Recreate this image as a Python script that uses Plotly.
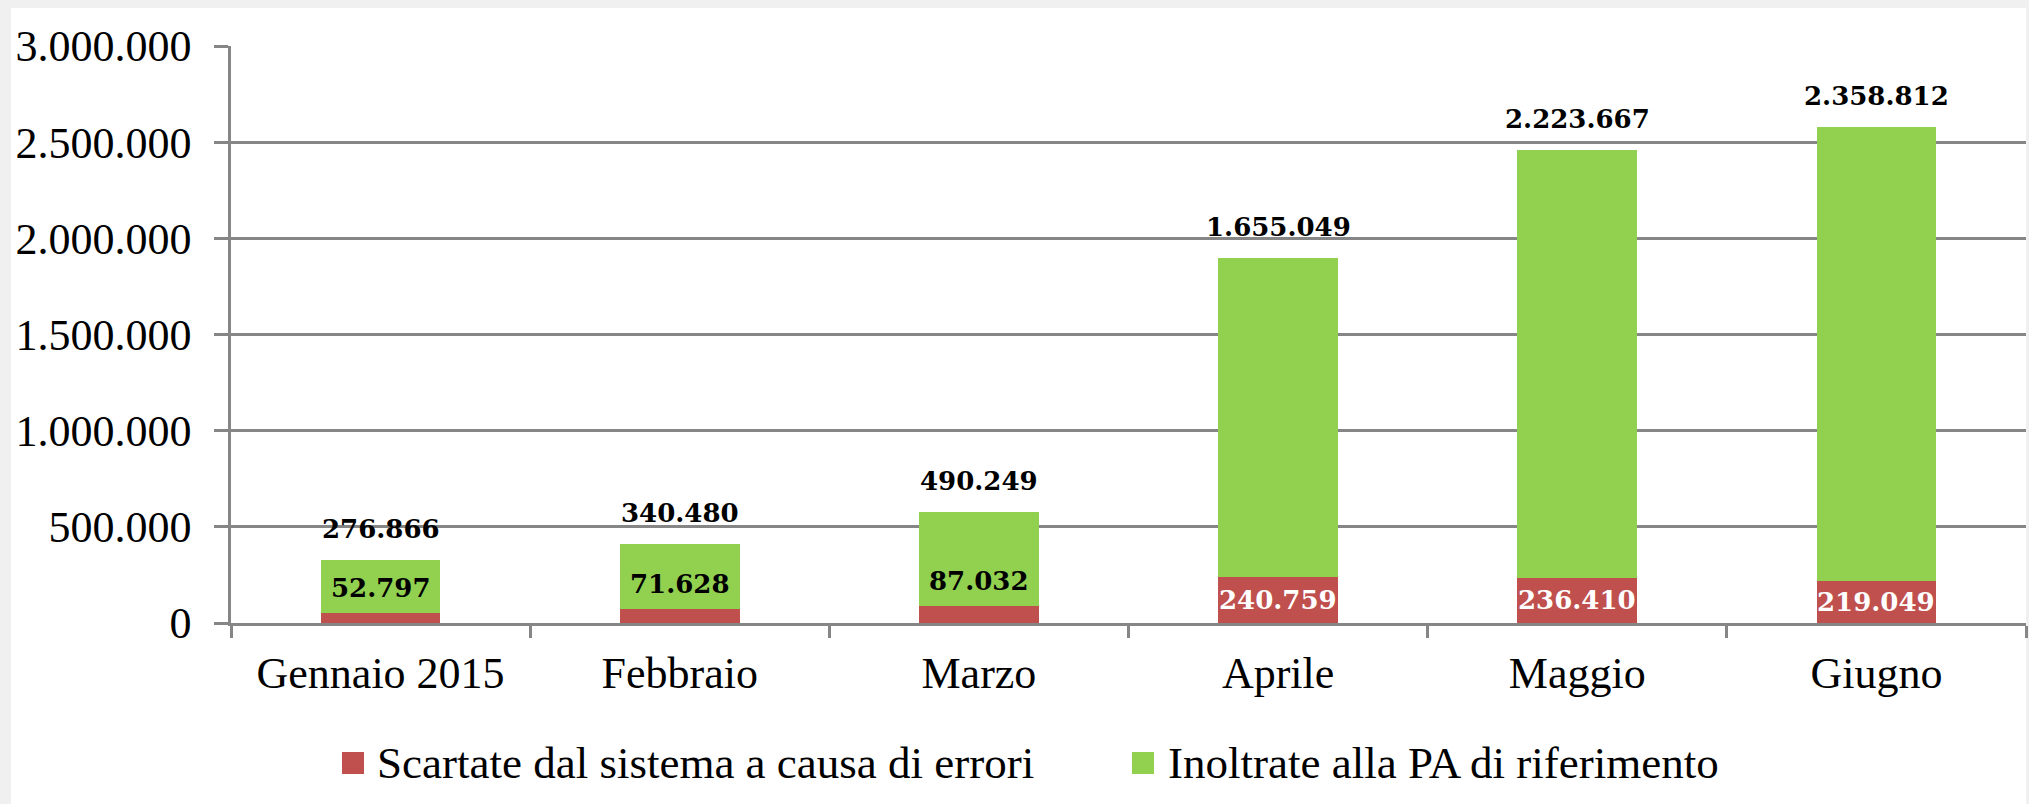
import plotly.graph_objects as go

# dati mensili (segnalazioni)
mesi = ["Gennaio 2015", "Febbraio", "Marzo", "Aprile", "Maggio", "Giugno"]
scartate = [52797, 71628, 87032, 240759, 236410, 219049]
inoltrate = [276866, 340480, 490249, 1655049, 2223667, 2358812]
nomi = ["Scartate dal sistema a causa di errori", "Inoltrate alla PA di riferimento"]
colori = ["#C0504D", "#92D050"]

W, H = 2029, 804
# plot area in pixels
L, R, T, B = 231, 2026, 46, 623

def px_x(px):
    return (px - L) / (R - L)

def px_y(py):
    return (B - py) / (B - T)

def fmt(v):
    return f"{v:,}".replace(",", ".")

grigio = "#868686"
font_ax = "Liberation Serif"
font_lab = "DejaVu Serif"

fig = go.Figure()
fig.add_trace(go.Bar(x=mesi, y=scartate, name=nomi[0], marker=dict(color=colori[0], line=dict(width=0))))
fig.add_trace(go.Bar(x=mesi, y=inoltrate, name=nomi[1], marker=dict(color=colori[1], line=dict(width=0))))

annotations = []
for m, s, i in zip(mesi, scartate, inoltrate):
    # totale sopra la barra (valore inoltrate)
    annotations.append(dict(x=m, y=s + i, text=fmt(i), showarrow=False,
                            yanchor="middle", yshift=31,
                            font=dict(family=font_lab, size=26, color="black", weight="bold")))
    if s > 150000:
        annotations.append(dict(x=m, y=s / 2, text=fmt(s), showarrow=False,
                                yanchor="middle",
                                font=dict(family=font_lab, size=26, color="white", weight="bold")))
    else:
        annotations.append(dict(x=m, y=s, text=fmt(s), showarrow=False,
                                yanchor="bottom", yshift=8,
                                font=dict(family=font_lab, size=26, color="black", weight="bold")))

# legenda manuale
shapes = [dict(type="rect", xref="paper", yref="paper", layer="below",
               x0=px_x(11), x1=px_x(2026), y0=px_y(8), y1=px_y(810),
               fillcolor="white", line=dict(width=0))]
leg = [(342, 375), (1132, 1166)]
for (sx, tx), nome, col in zip(leg, nomi, colori):
    shapes.append(dict(type="rect", xref="paper", yref="paper",
                       x0=px_x(sx), x1=px_x(sx + 22), y0=px_y(774), y1=px_y(752),
                       fillcolor=col, line=dict(width=0)))
    annotations.append(dict(xref="paper", yref="paper", x=px_x(tx), y=px_y(763),
                            xanchor="left", yanchor="middle", text=nome, showarrow=False,
                            font=dict(family=font_ax, size=45, color="black")))

fig.update_layout(
    width=W, height=H,
    barmode="stack", bargap=0.6,
    showlegend=False,
    separators=",.",
    paper_bgcolor="#f0f0f0", plot_bgcolor="rgba(0,0,0,0)",
    margin=dict(l=L, r=W - R, t=T, b=H - B, pad=0),
    font=dict(family=font_ax, size=44, color="black"),
    shapes=shapes, annotations=annotations,
    xaxis=dict(showline=True, linecolor=grigio, linewidth=2.5,
               ticks="outside", tickson="boundaries", ticklen=12, tickwidth=2.5, tickcolor=grigio,
               ticklabelstandoff=9, showgrid=False,
               tickfont=dict(family=font_ax, size=44)),
    yaxis=dict(range=[0, 3000000], tickvals=[0, 500000, 1000000, 1500000, 2000000, 2500000, 3000000],
               tickformat=",d", showline=True, linecolor=grigio, linewidth=2.5,
               ticks="outside", ticklen=14, tickwidth=2.5, tickcolor=grigio,
               showgrid=True, gridcolor=grigio, gridwidth=2.5, zeroline=False,
               ticklabelstandoff=14,
               tickfont=dict(family=font_ax, size=44)),
)

fig.write_html("out.html", config={"displayModeBar": False},
               post_script="document.body.style.margin='0';document.body.style.overflow='hidden';")
